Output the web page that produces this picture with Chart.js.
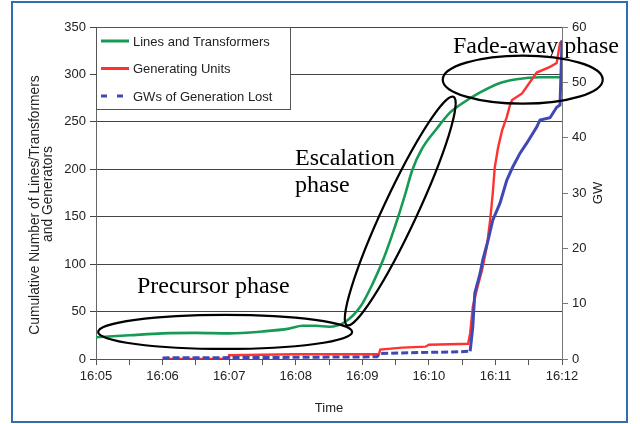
<!DOCTYPE html>
<html>
<head>
<meta charset="utf-8">
<script src="https://cdn.jsdelivr.net/npm/chart.js@4/dist/chart.umd.min.js"></script>
<style>
  html, body { margin: 0; padding: 0; background: #fff; }
</style>
</head>
<body>
<canvas id="grafico" width="640" height="424"></canvas>
<script>
// ============================== DADOS ==============================
// rótulos do eixo do tempo (minutos a partir de 16:05)
const rotulosTempo = ['16:05', '16:06', '16:07', '16:08', '16:09', '16:10', '16:11', '16:12']

// Linhas e transformadores - número acumulado (eixo esquerdo)
const linhasMin = [0, 0.5, 1.0, 1.5, 2.0, 2.5, 2.9, 3.1, 3.3, 3.5, 3.74, 3.97, 4.16, 4.31, 4.42, 4.54, 4.65, 4.75, 4.90, 5.12, 5.32, 5.47, 5.77, 6.07, 6.32, 6.67, 7.0]
const linhasQtd = [23, 25, 27, 27.5, 27, 29, 32, 35, 35, 34, 39, 55, 80, 104, 125, 150, 175, 199, 222, 243, 260, 268, 281, 291, 295, 297, 297]

// Unidades geradoras - número acumulado (eixo esquerdo)
const geradoresMin = [1.0, 2.0, 2.0, 3.0, 4.25, 4.27, 4.6, 4.95, 5.0, 5.47, 5.59, 5.62, 5.66, 5.72, 5.80, 5.87, 5.92, 5.96, 5.99, 6.04, 6.10, 6.17, 6.22, 6.25, 6.40, 6.52, 6.62, 6.82, 6.92, 6.97, 7.0]
const geradoresQtd = [0, 0, 4, 5, 5, 10, 12, 13, 15, 15.8, 16, 27, 55, 73, 94, 118, 146, 175, 202, 223, 241, 255, 268, 273, 280, 292, 302, 308, 312, 333, 335]

// GW de geração perdida (eixo direito)
const perdaMin = [1.0, 3.0, 4.22, 4.27, 5.0, 5.47, 5.62, 5.66, 5.69, 5.77, 5.81, 5.89, 5.96, 6.07, 6.17, 6.26, 6.37, 6.47, 6.62, 6.67, 6.82, 6.92, 6.97, 6.985, 7.0]
const perdaGW = [0.2, 0.3, 0.4, 1.0, 1.2, 1.3, 1.4, 5.8, 11.9, 15.5, 17.9, 21.5, 25.1, 28.2, 32.3, 34.7, 37.2, 39.0, 41.9, 43.2, 43.6, 45.5, 45.9, 51.7, 57.6]

const nomesSeries = ['Lines and Transformers', 'Generating Units', 'GWs of Generation Lost']

// monta pares {x, y} para o Chart.js
const juntar = (xs, ys) => xs.map((v, i) => ({ x: v, y: ys[i] }))

// ============================== ESTILO ==============================
const fonteSans = '"Liberation Sans", Arial, sans-serif'
const fonteSerif = '"Liberation Serif", "Times New Roman", serif'
const corVerde = '#179a55'
const corVermelho = '#ff3232'
const corAzul = '#4048b4'

Chart.defaults.font.family = fonteSans
Chart.defaults.font.size = 13
Chart.defaults.color = '#222'

// Legenda desenhada dentro da área do gráfico (com caixa)
const legendaCaixa = {
    id: 'legendaCaixa',
    afterDatasetsDraw(chart) {
        const { ctx, chartArea } = chart
        const x0 = chartArea.left, y0 = chartArea.top
        ctx.save()
        ctx.fillStyle = '#fff'
        ctx.fillRect(x0, y0, 194, 82)
        ctx.strokeStyle = '#555'
        ctx.lineWidth = 1
        ctx.strokeRect(x0 + 0.5, y0 + 0.5, 194, 82)
        chart.data.datasets.forEach((ds, i) => {
            const yy = y0 + 14 + i * 27.5
            ctx.beginPath()
            ctx.strokeStyle = ds.borderColor
            ctx.lineWidth = 3
            ctx.setLineDash(i === 2 ? [6, 10] : [])
            ctx.moveTo(x0 + 5, yy)
            ctx.lineTo(x0 + 33, yy)
            ctx.stroke()
            ctx.setLineDash([])
            ctx.fillStyle = '#222'
            ctx.font = '13px ' + fonteSans
            ctx.textBaseline = 'middle'
            ctx.fillText(ds.label, x0 + 37, yy + 1)
        })
        ctx.restore()
    }
}

// Elipses e textos das fases
const anotacoes = {
    id: 'anotacoes',
    afterDatasetsDraw(chart) {
        const { ctx, scales: { x, y } } = chart
        ctx.save()
        ctx.strokeStyle = '#000'
        ctx.lineWidth = 2.2
        const elipses = [
            { min: 1.94, val: 28.5, rx: 127, ry: 17, rot: 0 },
            { min: 4.57, val: 156, rx: 126, ry: 17, rot: -65 * Math.PI / 180 },
            { min: 6.41, val: 294.5, rx: 80, ry: 24, rot: 0 }
        ]
        elipses.forEach(e => {
            ctx.beginPath()
            ctx.ellipse(x.getPixelForValue(e.min), y.getPixelForValue(e.val), e.rx, e.ry, e.rot, 0, Math.PI * 2)
            ctx.stroke()
        })
        ctx.fillStyle = '#000'
        ctx.font = '24px ' + fonteSerif
        ctx.textBaseline = 'alphabetic'
        ctx.fillText('Precursor phase', 137, 293)
        ctx.fillText('Escalation', 295, 165)
        ctx.fillText('phase', 295, 192)
        ctx.fillText('Fade-away phase', 453, 53)
        ctx.restore()
    },
    afterDraw(chart) {
        const { ctx } = chart
        // títulos dos eixos verticais (lidos de baixo para cima)
        const titulos = [
            { txt: 'Cumulative Number of Lines/Transformers', x: 35, y: 205, tam: 13.8 },
            { txt: 'and Generators', x: 48, y: 194, tam: 13.8 },
            { txt: 'GW', x: 598, y: 193, tam: 13 }
        ]
        titulos.forEach(t => {
            ctx.save()
            ctx.translate(t.x, t.y)
            ctx.rotate(-Math.PI / 2)
            ctx.font = t.tam + 'px ' + fonteSans
            ctx.fillStyle = '#222'
            ctx.textAlign = 'center'
            ctx.textBaseline = 'middle'
            ctx.fillText(t.txt, 0, 0)
            ctx.restore()
        })
        // moldura azul
        ctx.save()
        ctx.strokeStyle = '#2f6fb0'
        ctx.lineWidth = 2
        ctx.strokeRect(12, 2, 615, 420)
        ctx.restore()
    }
}

// ============================== CONFIG ==============================
const dadosGrafico = {
    datasets: [
        {
            label: nomesSeries[0],
            data: juntar(linhasMin, linhasQtd),
            borderColor: corVerde,
            borderWidth: 2.6,
            cubicInterpolationMode: 'monotone',
            pointRadius: 0,
            yAxisID: 'y',
            order: 2
        },
        {
            label: nomesSeries[1],
            data: juntar(geradoresMin, geradoresQtd),
            borderColor: corVermelho,
            borderWidth: 2.4,
            pointRadius: 0,
            yAxisID: 'y',
            order: 1
        },
        {
            label: nomesSeries[2],
            data: juntar(perdaMin, perdaGW),
            borderColor: corAzul,
            borderWidth: 3,
            pointRadius: 0,
            yAxisID: 'y1',
            order: 0,
            segment: {
                borderDash: c => c.p0.parsed.x < 5.6 ? [7, 3] : undefined
            }
        }
    ]
}

const opcoesGrafico = {
    responsive: false,
    animation: false,
    devicePixelRatio: 1,
    layout: { padding: { top: 27, left: 0, right: 0, bottom: 0 } },
    plugins: { legend: { display: false }, tooltip: { enabled: false } },
    scales: {
        x: {
            type: 'linear',
            min: 0,
            max: 7,
            afterFit: s => { s.height = 65 },
            ticks: {
                stepSize: 0.5,
                autoSkip: false,
                maxRotation: 0,
                padding: 4,
                callback: v => Number.isInteger(v) ? rotulosTempo[v] : ''
            },
            grid: { drawOnChartArea: false, tickLength: 6, color: '#555' },
            border: { color: '#555' },
            title: { display: true, text: 'Time', padding: { top: 0, bottom: 8 } }
        },
        y: {
            position: 'left',
            min: 0,
            max: 350,
            afterFit: s => { s.width = 96 },
            ticks: { stepSize: 50, padding: 4 },
            grid: { color: '#444', tickLength: 6 },
            border: { color: '#666' }
        },
        y1: {
            position: 'right',
            min: 0,
            max: 60,
            afterFit: s => { s.width = 78 },
            ticks: { stepSize: 10, padding: 4 },
            grid: { drawOnChartArea: false, tickLength: 6, color: '#777' },
            border: { color: '#777' }
        }
    }
}

const grafico = new Chart(document.getElementById('grafico').getContext('2d'), {
    type: 'line',
    data: dadosGrafico,
    options: opcoesGrafico,
    plugins: [legendaCaixa, anotacoes]
})
</script>
</body>
</html>
